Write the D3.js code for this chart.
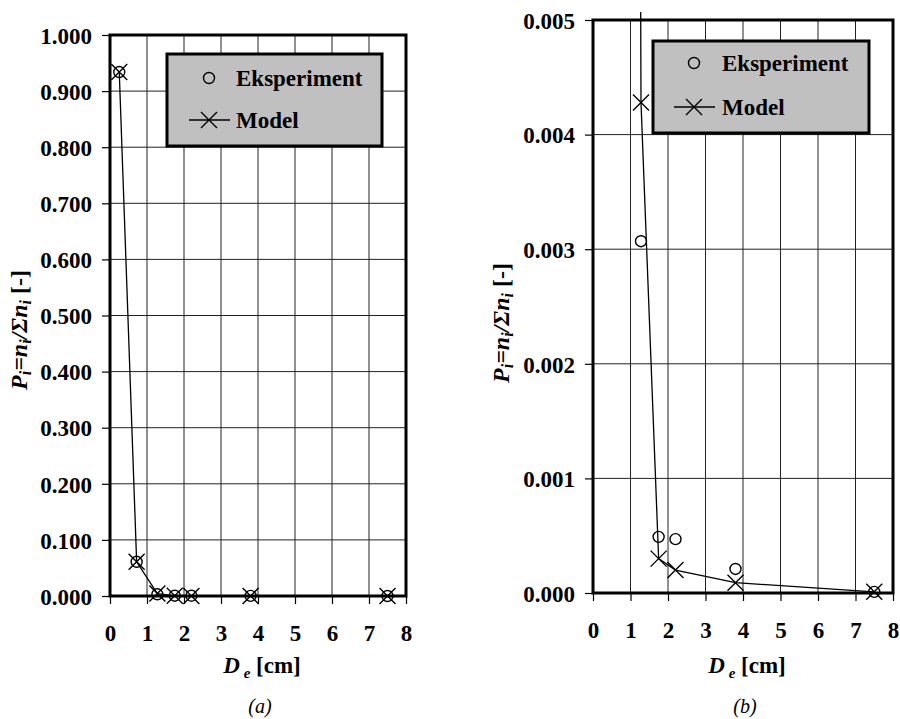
<!DOCTYPE html>
<html><head><meta charset="utf-8">
<script src="https://cdn.jsdelivr.net/npm/d3@7"></script>
<style>body{margin:0;background:#fff}svg{display:block}</style>
</head><body>
<svg id="c" width="900" height="719"></svg>
<script>
// ---- data ----
const De = [0.25, 0.72, 1.28, 1.75, 2.2, 3.8, 7.5];
const eksperiment = [0.934, 0.061, 0.00307, 0.00049, 0.00047, 0.00021, 0.00001];
const model       = [0.934, 0.061, 0.00428, 0.00030, 0.00020, 0.00009, 0.00001];
const xTicks = [0, 1, 2, 3, 4, 5, 6, 7, 8];
const yTicksA = [0, 0.1, 0.2, 0.3, 0.4, 0.5, 0.6, 0.7, 0.8, 0.9, 1.0];
const yTicksB = [0, 0.001, 0.002, 0.003, 0.004, 0.005];
const legendLabels = ["Eksperiment", "Model"];
const captions = ["(a)", "(b)"];

const svg = d3.select("#c");
const FONT = '"Liberation Serif", Tinos, "Times New Roman", Times, "DejaVu Serif", serif';

const panels = [
  {left:110, right:406, top:35, bottom:596, yMax:1.0, yTicks:yTicksA, caption:captions[0],
   ylabX:27, ylabY:330, legend:{x:167, y:54, w:215, h:92, sym:209, tx:236, y1:78, y2:120}, extTop:0},
  {left:593, right:893, top:20, bottom:593, yMax:0.005, yTicks:yTicksB, caption:captions[1],
   ylabX:509, ylabY:323, legend:{x:653, y:41, w:216, h:92, sym:694, tx:722, y1:63, y2:107}, extTop:8}
];

function xMark(sel, s){
  sel.append("path").attr("d", `M${-s},${-s}L${s},${s}M${-s},${s}L${s},${-s}`)
    .attr("stroke","#000").attr("stroke-width",1.4).attr("fill","none");
}

panels.forEach((p, i) => {
  const g = svg.append("g");
  const x = d3.scaleLinear().domain([0, 8]).range([p.left, p.right]);
  const y = d3.scaleLinear().domain([0, p.yMax]).range([p.bottom, p.top]);

  // gridlines
  g.append("g").selectAll("line.vx").data(xTicks.slice(1, -1)).join("line")
    .attr("x1", d => x(d)).attr("x2", d => x(d)).attr("y1", p.top).attr("y2", p.bottom)
    .attr("stroke", "#222").attr("stroke-width", 1);
  g.append("g").selectAll("line.hy").data(p.yTicks.slice(1, -1)).join("line")
    .attr("x1", p.left).attr("x2", p.right).attr("y1", d => y(d)).attr("y2", d => y(d))
    .attr("stroke", "#222").attr("stroke-width", 1);

  // axes
  const xa = g.append("g").attr("transform", `translate(0,${p.bottom})`)
    .call(d3.axisBottom(x).tickValues(xTicks).tickFormat(d3.format("d")).tickSize(8).tickPadding(21));
  const ya = g.append("g").attr("transform", `translate(${p.left},0)`)
    .call(d3.axisLeft(y).tickValues(p.yTicks).tickFormat(d3.format(".3f")).tickSize(8).tickPadding(10));
  [xa, ya].forEach(a => {
    a.attr("font-family", null);
    a.select(".domain").remove();
    a.selectAll(".tick line").attr("stroke", "#000").attr("stroke-width", 1.2);
    a.selectAll(".tick text").style("font-family", FONT).attr("font-weight", "bold")
      .attr("font-size", 23).attr("fill", "#000");
  });
  ya.selectAll(".tick text").attr("dy", "0.36em");

  // clip
  const cid = "clip" + i;
  svg.append("clipPath").attr("id", cid).append("rect")
    .attr("x", p.left).attr("y", p.top - p.extTop).attr("width", p.right - p.left)
    .attr("height", p.bottom - p.top + p.extTop);

  const pts = De.map((d, k) => ({x: d, e: eksperiment[k], m: model[k]}));
  const line = d3.line().x(d => x(d.x)).y(d => y(d.m));
  const plot = g.append("g").attr("clip-path", `url(#${cid})`);
  plot.append("path").datum(pts).attr("d", line).attr("fill", "none")
    .attr("stroke", "#000").attr("stroke-width", 1.3);

  const visible = pts.filter(d => d.m <= p.yMax * 1.01);
  g.append("g").selectAll("g").data(visible).join("g")
    .attr("transform", d => `translate(${x(d.x)},${y(d.m)})`).each(function(){ xMark(d3.select(this), 8); });
  g.append("g").selectAll("circle").data(pts.filter(d => d.e <= p.yMax * 1.01)).join("circle")
    .attr("cx", d => x(d.x)).attr("cy", d => y(d.e)).attr("r", 5.5)
    .attr("fill", "none").attr("stroke", "#000").attr("stroke-width", 1.4);

  // frame
  g.append("rect").attr("x", p.left).attr("y", p.top).attr("width", p.right - p.left)
    .attr("height", p.bottom - p.top).attr("fill", "none").attr("stroke", "#000").attr("stroke-width", 3);

  // legend
  const L = p.legend;
  g.append("rect").attr("x", L.x).attr("y", L.y).attr("width", L.w).attr("height", L.h)
    .attr("fill", "#c0c0c0").attr("stroke", "#000").attr("stroke-width", 3);
  g.append("circle").attr("cx", L.sym).attr("cy", L.y1).attr("r", 5.5)
    .attr("fill", "none").attr("stroke", "#000").attr("stroke-width", 1.4);
  g.append("line").attr("x1", L.sym - 20).attr("x2", L.sym + 21).attr("y1", L.y2).attr("y2", L.y2)
    .attr("stroke", "#000").attr("stroke-width", 1.3);
  xMark(g.append("g").attr("transform", `translate(${L.sym},${L.y2})`), 8);
  [L.y1, L.y2].forEach((yy, k) => {
    g.append("text").attr("x", L.tx).attr("y", yy).attr("dy", "0.35em")
      .style("font-family", FONT).attr("font-weight", "bold").attr("font-size", 23)
      .text(legendLabels[k]);
  });

  // x title
  const cx = (p.left + p.right) / 2 + 4;
  const xt = g.append("text").attr("x", cx).attr("y", 673).attr("text-anchor", "middle")
    .style("font-family", FONT).attr("font-weight", "bold").attr("font-size", 23);
  xt.append("tspan").attr("font-style", "italic").text("D");
  xt.append("tspan").attr("font-style", "italic").attr("font-size", 15).attr("dy", 5).text(" e");
  xt.append("tspan").attr("dy", -5).text("  [cm]");

  // y title
  const yt = g.append("text").attr("transform", `translate(${p.ylabX},${p.ylabY}) rotate(-90)`)
    .attr("text-anchor", "middle").style("font-family", FONT).attr("font-weight", "bold")
    .attr("font-style", "italic").attr("font-size", 24);
  yt.append("tspan").text("P");
  yt.append("tspan").attr("font-size", 16).attr("dy", 4).text("i");
  yt.append("tspan").attr("dy", -4).text("=n");
  yt.append("tspan").attr("font-size", 16).attr("dy", 4).text("i");
  yt.append("tspan").attr("dy", -4).text("/Σn");
  yt.append("tspan").attr("font-size", 16).attr("dy", 4).text("i");
  yt.append("tspan").attr("dy", -4).attr("font-style", "normal").text("  [-]");

  // caption
  g.append("text").attr("x", cx - 2).attr("y", 713).attr("text-anchor", "middle")
    .style("font-family", FONT).attr("font-style", "italic").attr("font-size", 20).text(p.caption);
});
</script>
</body></html>
